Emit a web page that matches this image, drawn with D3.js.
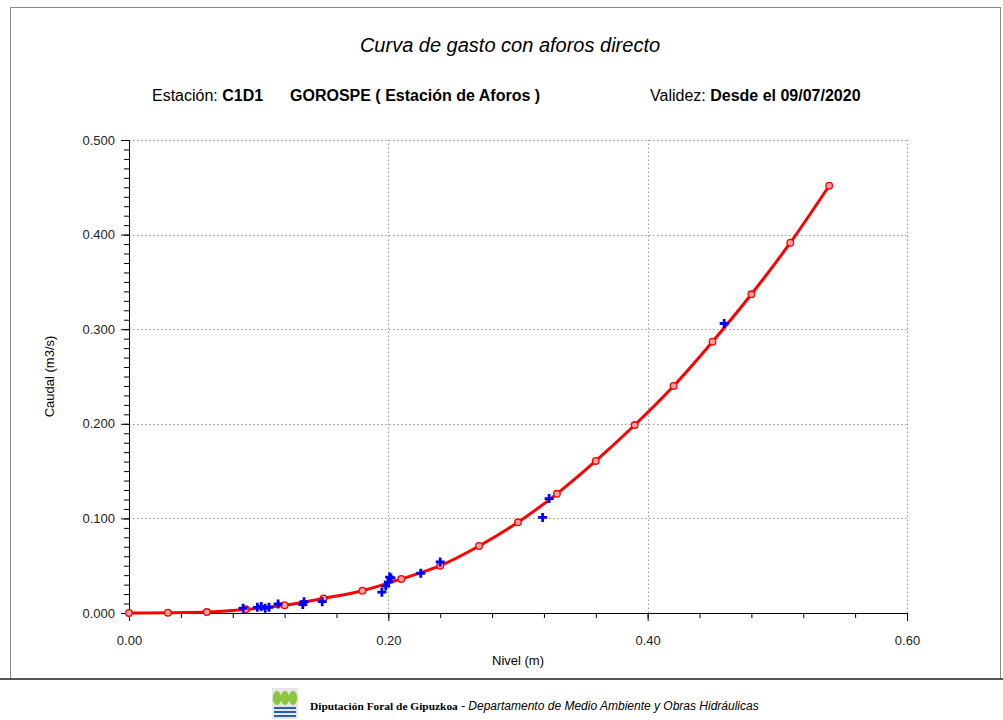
<!doctype html>
<html>
<head>
<meta charset="utf-8">
<title>Curva de gasto</title>
<script src="https://cdn.jsdelivr.net/npm/d3@7"></script>
<style>
    html, body { margin: 0; padding: 0; background: #fff; }
    svg { display: block; font-family: "Liberation Sans", Arial, sans-serif; }
</style>
</head>
<body>
<svg width="1003" height="720"></svg>
<script>
// curva (nivel, caudal)
var curveNivel = [0, 0.03, 0.06, 0.09, 0.12, 0.15, 0.18, 0.21, 0.24, 0.27, 0.30, 0.33, 0.36, 0.39, 0.42, 0.45, 0.48, 0.51, 0.54];
var curveCaudal = [0.000, 0.0003, 0.001, 0.0039, 0.0082, 0.0155, 0.0236, 0.036, 0.050, 0.0708, 0.0959, 0.126, 0.1607, 0.1987, 0.240, 0.2868, 0.3369, 0.3914, 0.4517];

// aforos directos
var aforoNivel = [0.088, 0.099, 0.102, 0.105, 0.108, 0.115, 0.134, 0.135, 0.149, 0.195, 0.198, 0.200, 0.201, 0.202, 0.225, 0.240, 0.319, 0.324, 0.459];
var aforoCaudal = [0.005, 0.006, 0.007, 0.005, 0.006, 0.0095, 0.009, 0.012, 0.012, 0.022, 0.0285, 0.033, 0.038, 0.037, 0.042, 0.054, 0.101, 0.121, 0.306];

var xTicks = [0, 0.2, 0.4, 0.6];
var yTicks = [0, 0.1, 0.2, 0.3, 0.4, 0.5];

var svg = d3.select('svg');
var margin = {left: 129, right: 96, top: 140, bottom: 107};
var W = 1003, H = 720;

var x = d3.scaleLinear().domain([0, 0.6]).range([margin.left, W - margin.right]);
var y = d3.scaleLinear().domain([0, 0.5]).range([H - margin.bottom, margin.top]);

// outer frame
svg.append('rect').attr('x', 10.5).attr('y', 7.5).attr('width', 990).attr('height', 671)
    .attr('fill', 'none').attr('stroke', '#8a8a8a').attr('stroke-width', 1);
svg.append('line').attr('x1', 0).attr('x2', W).attr('y1', 679).attr('y2', 679)
    .attr('stroke', '#555').attr('stroke-width', 2);

// titles
svg.append('text').attr('x', 510).attr('y', 52).attr('text-anchor', 'middle')
    .style('font-size', '20px').style('font-style', 'italic')
    .text('Curva de gasto con aforos directo');

var sub = svg.append('text').attr('x', 152).attr('y', 101).style('font-size', '16px');
sub.append('tspan').text('Estación: ');
sub.append('tspan').style('font-weight', 'bold').text('C1D1');
svg.append('text').attr('x', 290).attr('y', 101).style('font-size', '16px').style('font-weight', 'bold')
    .text('GOROSPE ( Estación de Aforos )');
var val = svg.append('text').attr('x', 650).attr('y', 101).style('font-size', '16px');
val.append('tspan').text('Validez: ');
val.append('tspan').style('font-weight', 'bold').text('Desde el 09/07/2020');

// grid
var grid = svg.append('g').attr('stroke', '#999').attr('stroke-dasharray', '1.5,2.5').attr('stroke-width', 1.2);
grid.selectAll('.gy').data(yTicks.slice(1)).enter().append('line')
    .attr('x1', x(0)).attr('x2', x(0.6))
    .attr('y1', function(d) { return Math.round(y(d)) + 0.5; })
    .attr('y2', function(d) { return Math.round(y(d)) + 0.5; });
grid.selectAll('.gx').data(xTicks.slice(1)).enter().append('line')
    .attr('y1', y(0)).attr('y2', y(0.5))
    .attr('x1', function(d) { return Math.round(x(d)) + 0.5; })
    .attr('x2', function(d) { return Math.round(x(d)) + 0.5; });

// axes
var yMinor = d3.axisLeft(y).tickValues(d3.range(0, 0.5001, 0.01)).tickSize(5).tickFormat('');
var yMajor = d3.axisLeft(y).tickValues(yTicks).tickSize(8).tickPadding(6).tickFormat(d3.format('.3f'));
var xMinor = d3.axisBottom(x).tickValues(d3.range(0, 0.6001, 0.04)).tickSize(5).tickFormat('');
var xMajor = d3.axisBottom(x).tickValues(xTicks).tickSize(8).tickPadding(15).tickFormat(d3.format('.2f'));

[yMinor, yMajor].forEach(function(a) {
    svg.append('g').attr('transform', 'translate(' + x(0) + ',0)').call(a);
});
[xMinor, xMajor].forEach(function(a) {
    svg.append('g').attr('transform', 'translate(0,' + y(0) + ')').call(a);
});
svg.selectAll('.domain').attr('stroke', '#000');
svg.selectAll('.tick line').attr('stroke', '#000');
svg.selectAll('.tick text').style('font-size', '13px').style('font-family', '"Liberation Sans", Arial, sans-serif').attr('fill', '#222');

// axis titles
svg.append('text').attr('x', x(0.3)).attr('y', 665).attr('text-anchor', 'middle')
    .style('font-size', '13px').text('Nivel (m)');
svg.append('text').attr('transform', 'translate(54,' + y(0.25) + ') rotate(-90)')
    .attr('text-anchor', 'middle').style('font-size', '13px').text('Caudal (m3/s)');

// curve
var curveData = curveNivel.map(function(n, i) { return [n, curveCaudal[i]]; });
var line = d3.line().x(function(d) { return x(d[0]); }).y(function(d) { return y(d[1]); }).curve(d3.curveMonotoneX);
svg.append('path').datum(curveData).attr('d', line)
    .attr('fill', 'none').attr('stroke', '#ff0000').attr('stroke-width', 3);
svg.selectAll('.pt').data(curveData).enter().append('circle')
    .attr('cx', function(d) { return x(d[0]); }).attr('cy', function(d) { return y(d[1]); })
    .attr('r', 3.3).attr('fill', '#ffa0a0').attr('stroke', '#ff0000').attr('stroke-width', 1.3);

// aforos (crosses)
var aforoData = aforoNivel.map(function(n, i) { return [n, aforoCaudal[i]]; });
svg.selectAll('.af').data(aforoData).enter().append('path')
    .attr('transform', function(d) { return 'translate(' + x(d[0]) + ',' + y(d[1]) + ')'; })
    .attr('d', 'M-4.5,0H4.5M0,-4.5V4.5')
    .attr('stroke', '#0000ff').attr('stroke-width', 2.8);

// footer
var logo = svg.append('g').attr('transform', 'translate(272,688)');
logo.append('rect').attr('width', 26).attr('height', 31).attr('fill', '#e6e6e6');
[5, 13, 21].forEach(function(cx) {
    logo.append('ellipse').attr('cx', cx).attr('cy', 10).attr('rx', 4.2).attr('ry', 7).attr('fill', '#8cc63f');
});
[19, 23, 27].forEach(function(wy) {
    logo.append('rect').attr('x', 2).attr('y', wy).attr('width', 22).attr('height', 2).attr('fill', '#2a5fb0');
});
svg.append('text').attr('x', 310).attr('y', 710).style('font-family', '"Liberation Serif", serif')
    .style('font-size', '11.4px').style('font-weight', 'bold').text('Diputación Foral de Gipuzkoa');
svg.append('text').attr('x', 461).attr('y', 710).style('font-size', '12px').style('font-style', 'italic')
    .text('- Departamento de Medio Ambiente y Obras Hidráulicas');
</script>
</body>
</html>
